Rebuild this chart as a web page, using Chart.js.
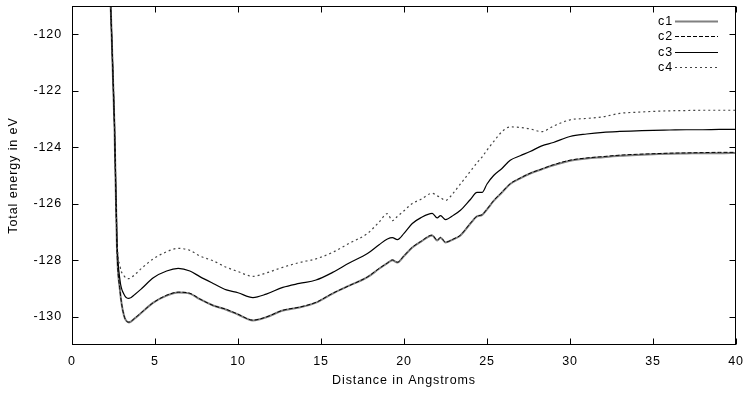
<!DOCTYPE html>
<html>
<head>
<meta charset="utf-8">
<script src="https://cdn.jsdelivr.net/npm/chart.js@4"></script>
<style>
  html, body { margin: 0; padding: 0; background: #fff; }
  #wrap { width: 747px; height: 394px; }
</style>
</head>
<body>
<div id="wrap"><canvas id="energy"></canvas></div>
<script>
// distances (Angstrom) shared by all four curves
const distance = [2.3, 2.56, 2.71, 2.89, 3.13, 3.43, 3.8, 4.2, 4.9, 5.7, 6.4, 7.1, 7.7, 8.5, 9.3, 10.0, 10.9, 11.7, 12.7, 13.7,
  14.7, 15.7, 16.7, 17.8, 18.5, 19.0, 19.3, 19.6, 20.0, 20.5, 21.0, 21.7, 22.0, 22.2, 22.5, 23.0, 23.4, 24.0, 24.4, 24.7,
  25.0, 25.4, 25.9, 26.4, 27.0, 27.6, 28.3, 29.0, 30.0, 31.0, 32.0, 33.0, 34.0, 35.0, 36.0, 37.0, 38.0, 39.0, 40.0];

const c1 = [-118.5, -123.3, -127.6, -129.07, -129.96, -130.2, -130.05, -129.85, -129.5, -129.25, -129.14, -129.18, -129.38, -129.6, -129.75, -129.92, -130.13, -130.02, -129.78, -129.67,
  -129.5, -129.18, -128.9, -128.6, -128.3, -128.1, -128.0, -128.08, -127.85, -127.55, -127.35, -127.12, -127.3, -127.2, -127.37, -127.25, -127.12, -126.7, -126.45, -126.4,
  -126.2, -125.9, -125.6, -125.3, -125.1, -124.93, -124.78, -124.64, -124.48, -124.4, -124.35, -124.3, -124.27, -124.25, -124.23, -124.22, -124.21, -124.21, -124.2];

const c2 = [-118.5, -123.3, -127.6, -129.06, -129.95, -130.19, -130.04, -129.84, -129.5, -129.24, -129.13, -129.17, -129.37, -129.6, -129.74, -129.91, -130.12, -130.01, -129.77, -129.66,
  -129.49, -129.17, -128.9, -128.59, -128.29, -128.1, -127.99, -128.07, -127.84, -127.54, -127.34, -127.11, -127.29, -127.19, -127.36, -127.24, -127.11, -126.69, -126.44, -126.39,
  -126.19, -125.89, -125.59, -125.29, -125.09, -124.92, -124.77, -124.62, -124.46, -124.38, -124.33, -124.28, -124.25, -124.23, -124.21, -124.2, -124.19, -124.18, -124.18];

const c3 = [-118.5, -123.2, -127.3, -128.7, -129.2, -129.35, -129.2, -129.0, -128.62, -128.38, -128.29, -128.38, -128.58, -128.82, -129.05, -129.15, -129.32, -129.2, -128.96, -128.82,
  -128.7, -128.43, -128.1, -127.76, -127.45, -127.25, -127.2, -127.27, -127.05, -126.7, -126.5, -126.34, -126.5, -126.42, -126.56, -126.4, -126.23, -125.85, -125.6, -125.6,
  -125.3, -125.0, -124.75, -124.46, -124.3, -124.15, -123.95, -123.83, -123.62, -123.53, -123.47, -123.44, -123.42, -123.4, -123.39, -123.38, -123.38, -123.37, -123.37];

const c4 = [-118.5, -123.1, -127.2, -128.2, -128.55, -128.65, -128.5, -128.28, -127.95, -127.7, -127.58, -127.65, -127.85, -128.02, -128.25, -128.4, -128.57, -128.45, -128.25, -128.08,
  -127.95, -127.72, -127.4, -127.05, -126.65, -126.35, -126.6, -126.45, -126.25, -125.99, -125.85, -125.63, -125.72, -125.78, -125.88, -125.6, -125.3, -124.85, -124.55, -124.35,
  -124.1, -123.8, -123.45, -123.28, -123.3, -123.35, -123.45, -123.25, -123.03, -122.98, -122.92, -122.8, -122.76, -122.73, -122.71, -122.7, -122.69, -122.69, -122.69];

const seriesNames = ['c1', 'c2', 'c3', 'c4'];
const xTicks = [0, 5, 10, 15, 20, 25, 30, 35, 40];
const yTicks = [-130, -128, -126, -124, -122, -120];

const FONT = '"Liberation Sans", Arial, Helvetica, sans-serif';
const FSIZE = 12.5;
const SPACING = '0.9px';

function pts(ys) {
  return distance.map((d, i) => ({ x: d, y: ys[i] }));
}

// gnuplot text is a bit wider than Helvetica, so spread the letters
const spacing = {
  id: 'spacing',
  beforeLayout(chart) { chart.ctx.letterSpacing = SPACING; },
  beforeDraw(chart) { chart.ctx.letterSpacing = SPACING; }
};

// box, inward ticks on all sides and the key
const frame = {
  id: 'frame',
  afterDraw(chart) {
    const { ctx, chartArea: a, scales: { x, y } } = chart;
    const L = Math.round(a.left) + 0.5, R = Math.round(a.right) - 0.5;
    const T = Math.round(a.top) + 0.5, B = Math.round(a.bottom) - 0.5;
    const tl = 6;
    ctx.save();
    ctx.strokeStyle = '#000';
    ctx.lineWidth = 1;
    ctx.setLineDash([]);
    ctx.strokeRect(L, T, R - L, B - T);
    ctx.beginPath();
    xTicks.forEach(v => {
      const px = Math.round(x.getPixelForValue(v)) + 0.5;
      ctx.moveTo(px, B); ctx.lineTo(px, B - tl);
      ctx.moveTo(px, T); ctx.lineTo(px, T + tl);
    });
    yTicks.forEach(v => {
      const py = Math.round(y.getPixelForValue(v)) + 0.5;
      ctx.moveTo(L, py); ctx.lineTo(L + tl, py);
      ctx.moveTo(R, py); ctx.lineTo(R - tl, py);
    });
    ctx.stroke();

    ctx.font = FSIZE + 'px ' + FONT;
    ctx.letterSpacing = SPACING;
    ctx.textAlign = 'right';
    ctx.textBaseline = 'middle';
    chart.data.datasets.forEach((ds, i) => {
      const ty = Math.round(a.top + 15 + i * 15.3) + 0.5;
      ctx.fillStyle = '#000';
      ctx.fillText(ds.label, a.right - 63, ty + 0.5);
      ctx.strokeStyle = ds.borderColor;
      ctx.lineWidth = ds.borderWidth;
      ctx.setLineDash(ds.borderDash || []);
      ctx.beginPath();
      ctx.moveTo(a.right - 61, ty);
      ctx.lineTo(a.right - 18, ty);
      ctx.stroke();
    });
    ctx.restore();
  }
};

const font = { family: FONT, size: FSIZE };

new Chart(document.getElementById('energy'), {
  type: 'line',
  data: {
    datasets: [
      { label: seriesNames[0], data: pts(c1), borderColor: '#808080', borderWidth: 2, order: 3 },
      { label: seriesNames[1], data: pts(c2), borderColor: '#000', borderWidth: 1, borderDash: [4, 2], order: 2 },
      { label: seriesNames[2], data: pts(c3), borderColor: '#000', borderWidth: 1.2, order: 1 },
      { label: seriesNames[3], data: pts(c4), borderColor: '#444', borderWidth: 1.2, borderDash: [2, 3], order: 0 }
    ]
  },
  options: {
    responsive: true,
    maintainAspectRatio: false,
    animation: false,
    layout: { padding: { top: 6, right: 11, left: 0, bottom: 0 } },
    elements: {
      point: { radius: 0 },
      line: { cubicInterpolationMode: 'monotone', fill: false }
    },
    plugins: {
      legend: { display: false },
      tooltip: { enabled: false }
    },
    scales: {
      x: {
        type: 'linear',
        min: 0,
        max: 40,
        afterBuildTicks: s => { s.ticks = xTicks.map(v => ({ value: v })); },
        afterFit: s => { s.height = 49; s.paddingLeft = 0; s.paddingRight = 0; },
        grid: { display: false, drawTicks: false },
        border: { display: false },
        ticks: { color: '#000', padding: 9, font },
        title: { display: true, text: 'Distance in Angstroms', color: '#000', padding: { top: 0, bottom: 6 }, font }
      },
      y: {
        type: 'linear',
        min: -131,
        max: -119,
        afterBuildTicks: s => { s.ticks = yTicks.map(v => ({ value: v })); },
        afterFit: s => { s.width = 72; s.paddingTop = 0; s.paddingBottom = 0; },
        grid: { display: false, drawTicks: false },
        border: { display: false },
        ticks: { color: '#000', padding: 10, font },
        title: { display: true, text: 'Total energy in eV', color: '#000', padding: { top: 6, bottom: 0 }, font }
      }
    }
  },
  plugins: [spacing, frame]
});
</script>
</body>
</html>
